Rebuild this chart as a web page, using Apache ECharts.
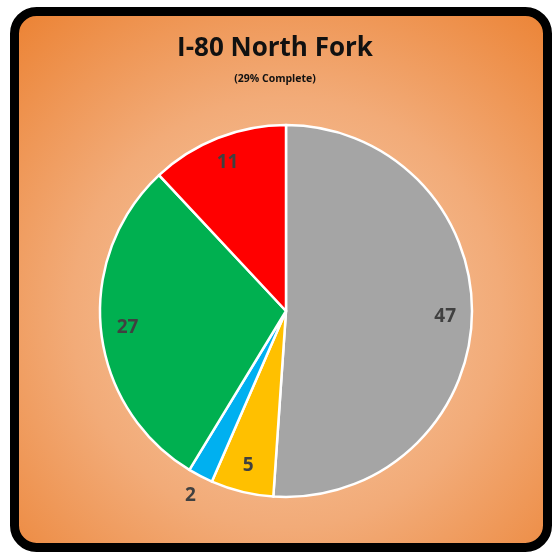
<!DOCTYPE html>
<html>
<head>
<meta charset="utf-8">
<script src="https://cdn.jsdelivr.net/npm/echarts@6/dist/echarts.min.js"></script>
<style>
  html, body { margin: 0; padding: 0; background: #fff; }
  #main { width: 552px; height: 554px; }
</style>
</head>
<body>
<div id="main"></div>
<script>
const sliceNames = ['Gray', 'Yellow', 'Blue', 'Green', 'Red'];
const sliceValues = [47, 5, 2, 27, 11];
const sliceColors = ['#A5A5A5', '#FFC000', '#00B0F0', '#00B050', '#FF0000'];
const titleText = 'I-80 North Fork';
const subText = '(29% Complete)';

const cx = 286, cy = 311, R = 186;
const tinySlice = 2; // this one gets its label outside the rim

const chart = echarts.init(document.getElementById('main'));

const pieData = sliceValues.map(function (v, i) {
  return { name: sliceNames[i], value: v, itemStyle: { color: sliceColors[i] } };
});

const labelFont = {
  formatter: '{c}',
  fontFamily: 'Open Sans',
  fontWeight: 'bold',
  fontSize: 19,
  color: '#404040'
};

// labels sit near the rim, so see-through rings carry them
const innerLabels = sliceValues.map(function (v, i) {
  return { name: sliceNames[i], value: v, label: { show: v !== tinySlice } };
});
const outerLabels = sliceValues.map(function (v, i) {
  return { name: sliceNames[i], value: v, label: { show: v === tinySlice } };
});

const ring = {
  type: 'pie',
  center: [cx, cy],
  startAngle: 90,
  silent: true,
  avoidLabelOverlap: false,
  itemStyle: { color: 'rgba(0,0,0,0)', borderWidth: 0 },
  labelLine: { show: false }
};

const option = {
  animation: false,
  graphic: [{
    type: 'rect',
    z: -10,
    shape: { x: 14.5, y: 11.5, width: 533, height: 536, r: 22 },
    style: {
      fill: new echarts.graphic.RadialGradient(0.51, 0.56, 0.72, [
        { offset: 0, color: '#F7CDAB' },
        { offset: 0.55, color: '#F2AB78' },
        { offset: 1, color: '#EC8538' }
      ]),
      stroke: '#000',
      lineWidth: 9
    }
  }],
  title: {
    text: titleText,
    subtext: subText,
    left: 270,
    textAlign: 'center',
    top: 31,
    itemGap: 12,
    textStyle: { fontFamily: 'Open Sans', fontWeight: 'bold', fontSize: 26, color: '#111' },
    subtextStyle: { fontFamily: 'Open Sans', fontWeight: 'bold', fontSize: 10.5, color: '#111' }
  },
  series: [{
    type: 'pie',
    center: [cx, cy],
    radius: [0, R],
    startAngle: 90,
    silent: true,
    label: { show: false },
    labelLine: { show: false },
    itemStyle: { borderColor: '#fff', borderWidth: 2.5 },
    data: pieData
  }, Object.assign({}, ring, {
    radius: [R * 0.68, R],
    label: Object.assign({ position: 'inner' }, labelFont),
    data: innerLabels
  }), Object.assign({}, ring, {
    radius: [R, R * 1.2],
    label: Object.assign({ position: 'inner' }, labelFont),
    data: outerLabels
  })]
};

chart.setOption(option);
</script>
</body>
</html>
